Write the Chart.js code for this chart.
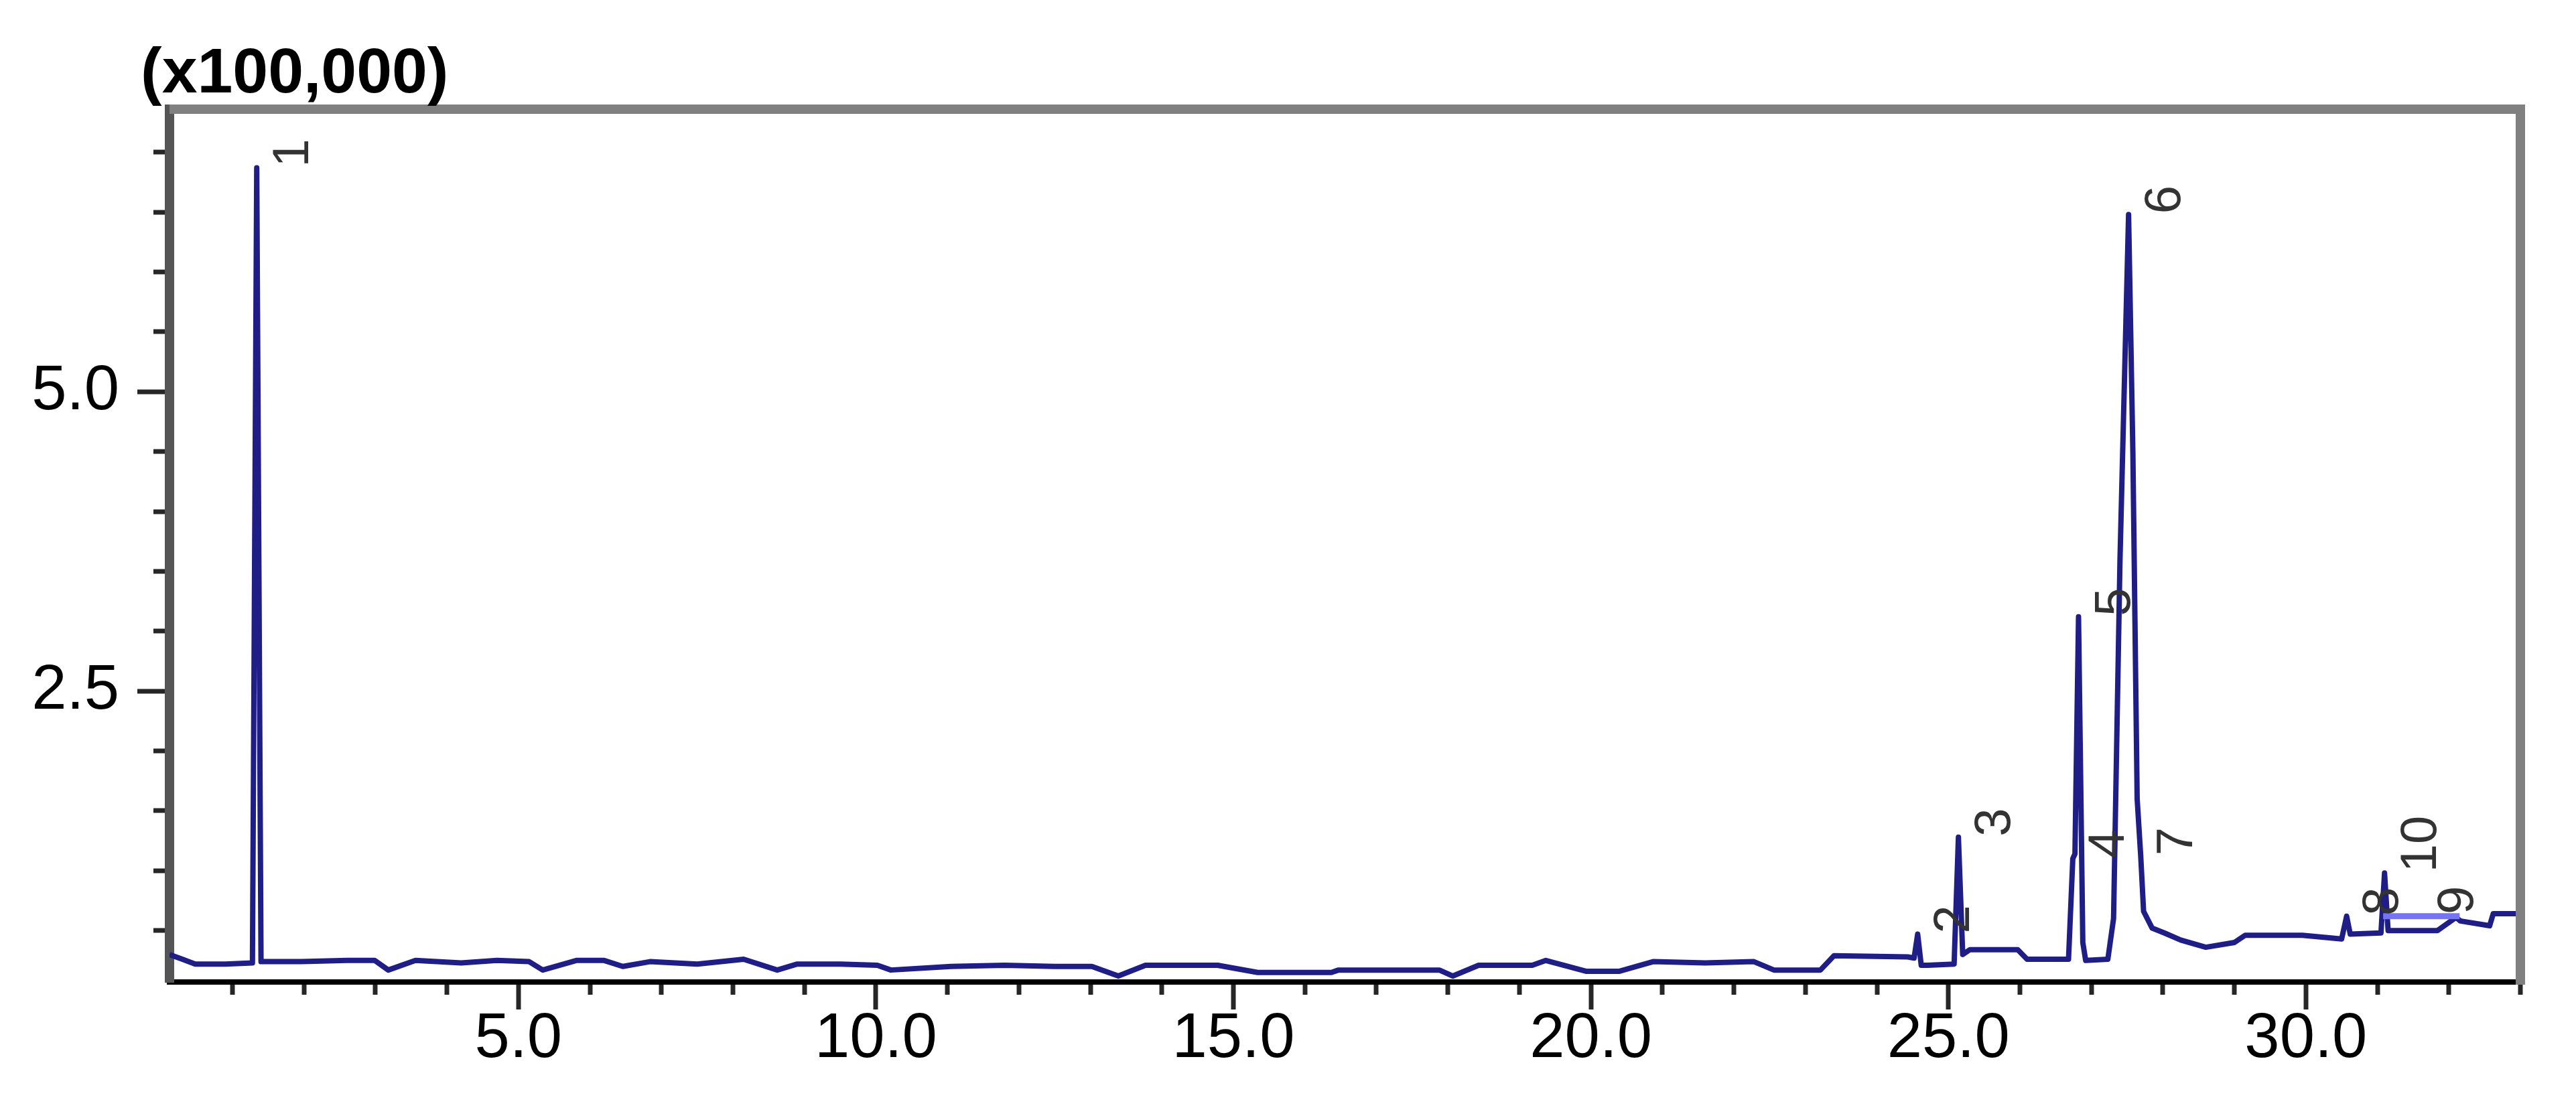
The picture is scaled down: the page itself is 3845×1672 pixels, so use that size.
<!DOCTYPE html>
<html>
<head>
<meta charset="utf-8">
<title>Chromatogram</title>
<script src="https://cdn.jsdelivr.net/npm/chart.js@4.4.1/dist/chart.umd.min.js"></script>
<style>
  html, body { margin: 0; padding: 0; background: #fff; }
  #wrap { width: 3845px; height: 1672px; }
</style>
</head>
<body>
<div id="wrap"><canvas id="chromatogram" width="3845" height="1672"></canvas></div>
<script>
// Retention time (min) and detector response (x100,000)
const retentionTimes = [
  0.12, 0.30, 0.48, 0.90, 1.28, 1.34, 1.40, 1.96, 2.60, 2.99,
  3.18, 3.56, 4.20, 4.70, 5.15, 5.34, 5.81, 6.20, 6.46, 6.84,
  7.50, 8.15, 8.62, 8.90, 9.50, 10.02, 10.21, 11.05, 11.80, 12.50,
  13.02, 13.39, 13.77, 14.78, 15.34, 16.37, 16.47, 17.88, 18.07, 18.43,
  19.18, 19.37, 19.93, 20.40, 20.87, 21.60, 22.28, 22.56, 23.21, 23.40,
  24.43, 24.52, 24.57, 24.62, 24.71, 25.08, 25.14, 25.20, 25.30, 25.97,
  26.10, 26.68, 26.74, 26.77, 26.82, 26.88, 26.92, 27.23, 27.31, 27.40,
  27.52, 27.58, 27.64, 27.69, 27.73, 27.85, 28.02, 28.25, 28.60, 29.00,
  29.15, 29.95, 30.50, 30.57, 30.62, 31.05, 31.10, 31.15, 31.84, 32.10,
  32.16, 32.57, 32.62, 33.00
];
const intensities = [
  0.30, 0.26, 0.22, 0.22, 0.23, 6.87, 0.24, 0.24, 0.25, 0.25,
  0.17, 0.25, 0.23, 0.25, 0.24, 0.17, 0.25, 0.25, 0.20, 0.24,
  0.22, 0.26, 0.17, 0.22, 0.22, 0.21, 0.17, 0.20, 0.21, 0.20,
  0.20, 0.12, 0.21, 0.21, 0.15, 0.15, 0.17, 0.17, 0.12, 0.21,
  0.21, 0.25, 0.16, 0.16, 0.24, 0.23, 0.24, 0.17, 0.17, 0.29,
  0.28, 0.27, 0.47, 0.21, 0.21, 0.22, 1.28, 0.30, 0.34, 0.34,
  0.26, 0.26, 1.10, 1.14, 3.12, 0.40, 0.25, 0.26, 0.60, 3.60,
  6.48, 4.50, 1.60, 1.12, 0.66, 0.52, 0.48, 0.42, 0.36, 0.40,
  0.46, 0.46, 0.43, 0.62, 0.47, 0.48, 0.98, 0.50, 0.50, 0.61,
  0.58, 0.54, 0.64, 0.64
];

// Peak numbers and where their apex sits
const peakNumbers = ['1', '2', '3', '4', '5', '6', '7', '8', '9', '10'];
const peakTimes = [1.34, 24.57, 25.14, 26.74, 26.82, 27.52, 27.69, 30.57, 31.62, 31.10];
const peakHeights = [6.87, 0.47, 1.28, 1.10, 3.12, 6.48, 1.12, 0.62, 0.63, 0.98];

// Integration baseline drawn under peaks 10 and 9
const baselineTimes = [31.08, 32.15];
const baselineLevels = [0.62, 0.62];

const xTickLabels = ['5.0', '10.0', '15.0', '20.0', '25.0', '30.0'];
const yTickLabels = ['2.5', '5.0'];
const yMultiplier = '(x100,000)';

const FONT = "'Liberation Sans', Arial, sans-serif";
const LABEL_SIZE = 94;
const PEAK_LABEL_SIZE = 76;

// Frame, tick marks, peak numbers and the multiplier text
const chromatogramDecor = {
  id: 'chromatogramDecor',
  afterDraw(chart) {
    const { ctx, chartArea: a, scales: { x, y } } = chart;
    ctx.save();

    // top and right edges of the box
    ctx.strokeStyle = '#808080';
    ctx.lineWidth = 14;
    ctx.beginPath();
    ctx.moveTo(a.left, a.top);
    ctx.lineTo(a.right, a.top);
    ctx.lineTo(a.right, a.bottom + 4);
    ctx.stroke();

    // tick marks: y every 0.5, x every 1.0, labelled ones longer
    ctx.strokeStyle = '#262626';
    ctx.lineWidth = 7;
    const yMajor = yTickLabels.map(Number);
    for (let k = 1; k * 0.5 <= y.max; k++) {
      const v = k * 0.5;
      if (v < y.min) continue;
      const py = Math.round(y.getPixelForValue(v));
      const len = yMajor.includes(v) ? 41 : 17;
      ctx.beginPath();
      ctx.moveTo(a.left - 7, py);
      ctx.lineTo(a.left - 7 - len, py);
      ctx.stroke();
    }
    const xMajor = xTickLabels.map(Number);
    for (let k = 1; k <= x.max; k++) {
      if (k < x.min) continue;
      const px = Math.round(x.getPixelForValue(k));
      const len = xMajor.includes(k) ? 37 : 15;
      ctx.beginPath();
      ctx.moveTo(px, a.bottom + 4);
      ctx.lineTo(px, a.bottom + 4 + len);
      ctx.stroke();
    }

    // peak numbers, rotated to read bottom-to-top, right of each apex
    ctx.fillStyle = '#333';
    ctx.font = `${PEAK_LABEL_SIZE}px ${FONT}`;
    ctx.textAlign = 'left';
    ctx.textBaseline = 'alphabetic';
    peakNumbers.forEach((num, i) => {
      const px = x.getPixelForValue(peakTimes[i]);
      const py = y.getPixelForValue(peakHeights[i]);
      ctx.save();
      ctx.translate(px + 22 + PEAK_LABEL_SIZE * 0.716, py - 1);
      ctx.rotate(-Math.PI / 2);
      ctx.fillText(num, 0, 0);
      ctx.restore();
    });

    // multiplier above the y axis
    ctx.fillStyle = '#000';
    ctx.font = `bold 95px ${FONT}`;
    ctx.fillText(yMultiplier, 210, 138);

    ctx.restore();
  }
};

const trace = retentionTimes.map((t, i) => ({ x: t, y: intensities[i] }));
const integration = baselineTimes.map((t, i) => ({ x: t, y: baselineLevels[i] }));

new Chart(document.getElementById('chromatogram'), {
  type: 'line',
  data: {
    datasets: [
      {
        data: integration,
        borderColor: '#7474f4',
        borderWidth: 9,
        pointRadius: 0,
        tension: 0
      },
      {
        data: trace,
        borderColor: '#1f1d86',
        borderWidth: 8,
        borderJoinStyle: 'round',
        pointRadius: 0,
        tension: 0
      }
    ]
  },
  options: {
    responsive: false,
    devicePixelRatio: 1,
    animation: false,
    layout: { padding: { top: 163, right: 83, bottom: 0, left: 0 } },
    plugins: {
      legend: { display: false },
      tooltip: { enabled: false },
      title: { display: false }
    },
    scales: {
      x: {
        type: 'linear',
        min: 0.12,
        max: 33.0,
        afterBuildTicks: (s) => { s.ticks = xTickLabels.map(t => ({ value: Number(t) })); },
        afterFit: (s) => { s.height = 206; },
        grid: { display: false, drawTicks: false },
        border: { display: true, color: '#000', width: 8 },
        ticks: {
          autoSkip: false,
          maxRotation: 0,
          minRotation: 0,
          padding: 30,
          color: '#000',
          font: { family: FONT, size: LABEL_SIZE },
          callback: (v, i) => xTickLabels[i]
        }
      },
      y: {
        type: 'linear',
        min: 0.07,
        max: 7.36,
        afterBuildTicks: (s) => { s.ticks = yTickLabels.map(t => ({ value: Number(t) })); },
        afterFit: (s) => { s.width = 253; },
        grid: { display: false, drawTicks: false },
        border: { display: true, color: '#555', width: 14 },
        ticks: {
          autoSkip: false,
          padding: 75,
          color: '#000',
          font: { family: FONT, size: LABEL_SIZE },
          callback: (v, i) => yTickLabels[i]
        }
      }
    }
  },
  plugins: [chromatogramDecor]
});
</script>
</body>
</html>
